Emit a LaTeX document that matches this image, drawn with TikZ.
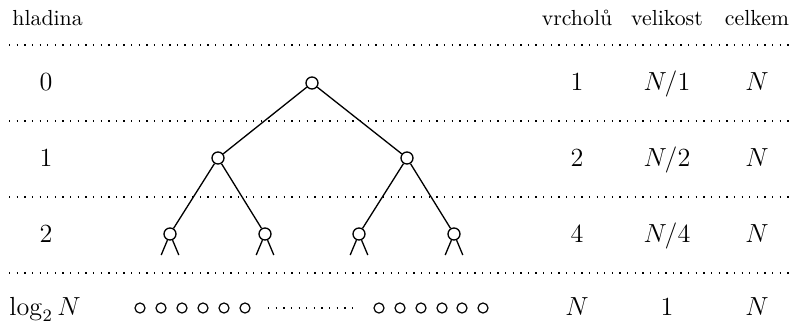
\documentclass[tikz,border=0pt]{standalone}
\usetikzlibrary{calc}
\begin{document}
\begin{tikzpicture}[x=0.4587pt,y=-0.4587pt,
  sep/.style={line width=0.6pt,dash pattern=on 0.6pt off 2.9pt},
  tnode/.style={circle,draw,fill=white,line width=0.6pt,inner sep=0pt,minimum size=5.5pt},
  leaf/.style={circle,draw,fill=white,line width=0.55pt,inner sep=0pt,minimum size=4.6pt},
  edge/.style={line width=0.6pt},
  hdr/.style={anchor=base,font=\normalsize},
  val/.style={anchor=base,font=\large}]
\useasboundingbox (0,0) rectangle (795,322);
% headers
\node[hdr,anchor=base west,inner sep=0pt] (h0) at (12,25.5) {hladina};
\node[hdr] (h1) at (577,25.5) {vrcholů};
\node[hdr] (h2) at (667,25.5) {velikost};
\node[hdr] (h3) at (757,25.5) {celkem};
% separators
\foreach \y/\n in {45/a,121/b,197/c,273/d}{
  \coordinate (s\n l) at (9,\y);
  \coordinate (s\n r) at (790,\y);
  \draw[sep] (s\n l) -- (s\n r);
}
% row labels and values
\node[val] (l0) at (46,90) {$0$};
\node[val] (l1) at (46,166) {$1$};
\node[val] (l2) at (46,242) {$2$};
\node[val,inner sep=0pt] (l3) at (45,315) {$\log_2 N$};
\node[val] (v0) at (577,90) {$1$};
\node[val] (v1) at (577,166) {$2$};
\node[val] (v2) at (577,242) {$4$};
\node[val] (v3) at (577,315) {$N$};
\node[val] (z0) at (667,90) {$N/1$};
\node[val] (z1) at (667,166) {$N/2$};
\node[val] (z2) at (667,242) {$N/4$};
\node[val] (z3) at (667,315) {$1$};
\node[val] (c0) at (757,90) {$N$};
\node[val] (c1) at (757,166) {$N$};
\node[val] (c2) at (757,242) {$N$};
\node[val] (c3) at (757,315) {$N$};
% tree
\node[tnode] (r) at (312,83) {};
\node[tnode] (a) at (218,158) {};
\node[tnode] (b) at (407,158) {};
\node[tnode] (aa) at (170,234) {};
\node[tnode] (ab) at (265,234) {};
\node[tnode] (ba) at (359,234) {};
\node[tnode] (bb) at (454,234) {};
\draw[edge] (r) -- (a);
\draw[edge] (r) -- (b);
\draw[edge] (a) -- (aa);
\draw[edge] (a) -- (ab);
\draw[edge] (b) -- (ba);
\draw[edge] (b) -- (bb);
\foreach \n in {aa,ab,ba,bb}{
  \coordinate (\n L) at ($(\n)+(-8.8,21)$);
  \coordinate (\n R) at ($(\n)+(8.8,21)$);
  \draw[edge] (\n) -- (\n L);
  \draw[edge] (\n) -- (\n R);
}
% leaves
\foreach \x [count=\i] in {140,161,182,203,224,245}{
  \node[leaf] (p\i) at (\x,308) {};
}
\foreach \x [count=\i] in {379,400,421,442,462,483}{
  \node[leaf] (q\i) at (\x,308) {};
}
\coordinate (m1) at (268,308);
\coordinate (m2) at (357,308);
\draw[sep] (m1) -- (m2);
\end{tikzpicture}
\end{document}
